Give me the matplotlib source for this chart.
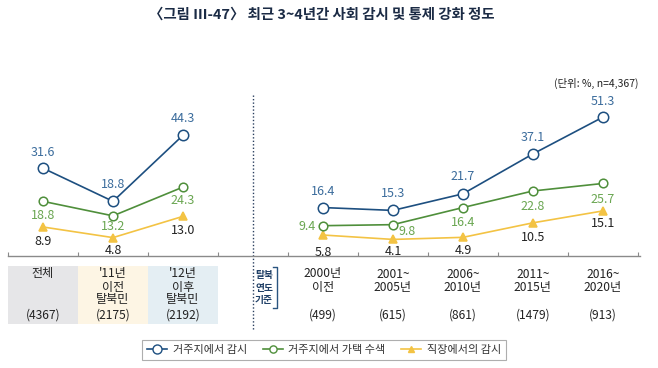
import matplotlib
matplotlib.use("Agg")
import matplotlib.pyplot as plt
import matplotlib.transforms as mtransforms
from matplotlib.patches import Rectangle
from matplotlib.lines import Line2D

plt.rcParams['font.family'] = ['Noto Sans CJK KR', 'DejaVu Sans']

# ---- data ----
left_cats = ["전체", "'11년\n이전\n탈북민", "'12년\n이후\n탈북민"]
left_n = ["(4367)", "(2175)", "(2192)"]
right_cats = ["2000년\n이전", "2001~\n2005년", "2006~\n2010년", "2011~\n2015년", "2016~\n2020년"]
right_n = ["(499)", "(615)", "(861)", "(1479)", "(913)"]

series_names = ["거주지에서 감시", "거주지에서 가택 수색", "직장에서의 감시"]
left_vals = [
    [31.6, 18.8, 44.3],
    [18.8, 13.2, 24.3],
    [8.9, 4.8, 13.0],
]
right_vals = [
    [16.4, 15.3, 21.7, 37.1, 51.3],
    [9.4, 9.8, 16.4, 22.8, 25.7],
    [5.8, 4.1, 4.9, 10.5, 15.1],
]

# ---- styles ----
line_colors = ["#1d4f80", "#4f8f3b", "#f3c344"]
label_colors = ["#3b6c9c", "#6aa651", "#222222"]
markers = ["o", "o", "^"]
msizes = [7.5, 6.2, 6.0]
cell_colors = ["#e6e6e8", "#fdf5e4", "#e4eef3"]
# label offsets in pixels (dx, dy downward positive)
left_off = [
    [(0, -16), (0, -17), (0, -17)],
    [(0, 14), (0, 11), (0, 13)],
    [(0, 15), (0, 13), (0, 14)],
]
right_off = [
    [(0, -16), (0, -17), (0, -17), (0, -16), (0, -16)],
    [(-16, 1), (14, 7), (0, 15), (0, 16), (0, 16)],
    [(0, 17), (0, 12), (0, 13), (0, 15), (0, 13)],
]
row_y = [274, 287, 300]
n_y = 315

W, H = 658, 368
fig = plt.figure(figsize=(W / 100, H / 100), dpi=100)

def fx(px):
    return px / W

def fy(py):
    return (H - py) / H

ax_left, ax_right, ax_top, ax_bot = 8, 640, 94.6, 256
ax = fig.add_axes([fx(ax_left), fy(ax_bot), fx(ax_right - ax_left), (ax_bot - ax_top) / H])

nl = len(left_cats)
nr = len(right_cats)
xl = list(range(nl))
xr = [nl + 1 + i for i in range(nr)]

for s in range(3):
    for xs, vals, offs in ((xl, left_vals[s], left_off[s]), (xr, right_vals[s], right_off[s])):
        ax.plot(xs, vals, color=line_colors[s], lw=1.2, marker=markers[s],
                ms=msizes[s], mfc="white" if s < 2 else line_colors[s],
                mec=line_colors[s], mew=1.1, zorder=3 + (2 - s))
        for i, v in enumerate(vals):
            dx, dy = offs[i]
            ax.annotate(f"{v:.1f}", (xs[i], v), xytext=(dx * 0.72, -dy * 0.72),
                        textcoords="offset points", ha="center", va="center",
                        fontsize=9, color=label_colors[s])

ax.set_xlim(-0.5, xr[-1] + 0.53)
ax.set_ylim(-2.3, 60)
for sp in ["top", "left", "right"]:
    ax.spines[sp].set_visible(False)
ax.spines["bottom"].set_color("#8a8a8a")
ax.spines["bottom"].set_linewidth(1.0)
ticks = [x - 0.5 for x in xl] + [xl[-1] + 0.5] + [x - 0.5 for x in xr] + [xr[-1] + 0.5]
ax.set_xticks(ticks)
ax.set_xticklabels([])
ax.tick_params(axis="x", direction="in", length=3, color="#8a8a8a", width=0.8)
ax.set_yticks([])

trans = mtransforms.blended_transform_factory(ax.transData, fig.transFigure)

# separator dotted line
sep_x = nl
ax.add_line(Line2D([sep_x, sep_x], [fy(95), fy(330)], transform=trans, color="#2a3f5f",
                   lw=1.0, ls=(0, (1, 1.5)), clip_on=False))

def cell_text(x, label, n):
    for k, line in enumerate(label.split("\n")):
        ax.text(x, fy(row_y[k]), line, transform=trans, ha="center", va="center",
                fontsize=8.7, color="#222222")
    ax.text(x, fy(n_y), n, transform=trans, ha="center", va="center",
            fontsize=8.7, color="#222222")

# table cells (left)
for i in range(nl):
    ax.add_patch(Rectangle((xl[i] - 0.5, fy(324)), 1.0, fy(266) - fy(324), transform=trans,
                           facecolor=cell_colors[i], edgecolor="none", clip_on=False, zorder=0))
    cell_text(xl[i], left_cats[i], left_n[i])

for i in range(nr):
    cell_text(xr[i], right_cats[i], right_n[i])

# 탈북 연도 기준 bracket label
for k, t in enumerate(["탈북", "연도", "기준"]):
    fig.text(fx(264), fy(275 + 12.5 * k), t, ha="center", va="center", fontsize=7,
             color="#1f3f66", fontweight="bold")
fig.add_artist(Line2D([fx(273), fx(277), fx(277), fx(273)],
                      [fy(267), fy(267), fy(308), fy(308)], color="#2a5580", lw=1.0))

# title & unit
fig.text(fx(322), fy(15), "〈그림 Ⅲ-47〉 최근 3~4년간 사회 감시 및 통제 강화 정도", ha="center",
         va="center", fontsize=10.4, fontweight="bold", color="#1b2b45")
fig.text(fx(639), fy(83), "(단위: %, n=4,367)", ha="right", va="center", fontsize=7.5,
         color="#222222")

# legend
handles = [Line2D([0], [0], color=line_colors[s], lw=1.2, marker=markers[s],
                  ms=msizes[s] - 1, mfc="white" if s < 2 else line_colors[s],
                  mec=line_colors[s], mew=1.0) for s in range(3)]
leg = fig.legend(handles, series_names, loc="center", bbox_to_anchor=(fx(324), fy(349.5)),
                 ncol=3, fontsize=8, frameon=True, fancybox=False, edgecolor="#9a9a9a",
                 handlelength=1.8, handletextpad=0.5, columnspacing=1.4,
                 borderpad=0.45, labelcolor="#333333")
leg.get_frame().set_linewidth(0.8)

fig.savefig("out.png", dpi=100)
